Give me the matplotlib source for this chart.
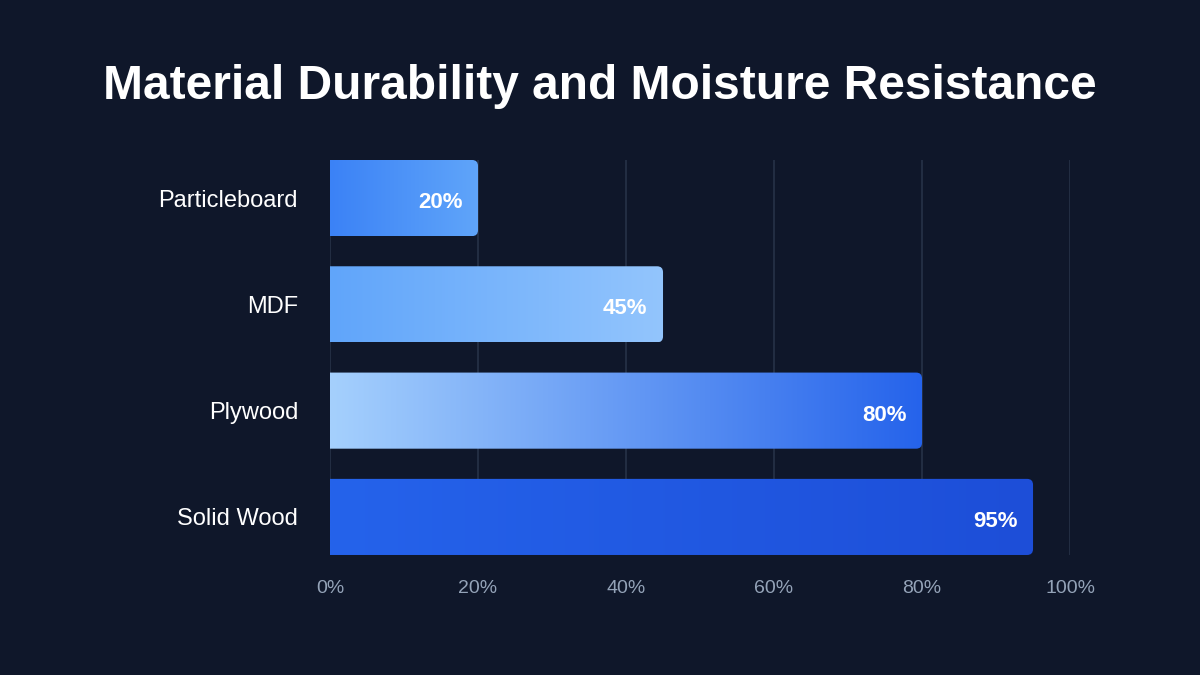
import numpy as np
import matplotlib.pyplot as plt
from matplotlib.patches import FancyBboxPatch
from matplotlib.colors import LinearSegmentedColormap

plt.rcParams['font.family'] = ['Liberation Sans', 'DejaVu Sans']

materials = ['Particleboard', 'MDF', 'Plywood', 'Solid Wood']
scores = [20, 45, 80, 95]
grad_left = ['#3b82f6', '#60a5fa', '#a5d0fd', '#2563eb']
grad_right = ['#60a5fa', '#93c5fd', '#2563eb', '#1d4ed8']
xticks = [0, 20, 40, 60, 80, 100]

bg = '#0f172a'
fig = plt.figure(figsize=(12, 6.75), dpi=100, facecolor=bg)
ax = fig.add_axes([0.275, 0.1778, 0.6167, 0.5852], facecolor=bg)

bar_h = 0.716
ax.set_xlim(0, 100)
ax.set_ylim(3 + bar_h / 2, -bar_h / 2)

for x in xticks:
    ax.axvline(x, color='#273247', lw=1.2, zorder=0)

for i, (name, v) in enumerate(zip(materials, scores)):
    y0 = i - bar_h / 2
    patch = FancyBboxPatch((-3, y0), v + 3, bar_h,
                           boxstyle='round,pad=0,rounding_size=0.8',
                           mutation_aspect=0.07, lw=0, zorder=2,
                           facecolor='none')
    ax.add_patch(patch)
    cmap = LinearSegmentedColormap.from_list('g%d' % i, [grad_left[i], grad_right[i]])
    img = ax.imshow(np.linspace(0, 1, 256).reshape(1, -1), cmap=cmap,
                    extent=[0, v, i + bar_h / 2, y0], aspect='auto', zorder=2)
    img.set_clip_path(patch)
    ax.text(v - 2.1, i + 0.02, '%d%%' % v, color='white', fontsize=16,
            fontweight='bold', ha='right', va='center_baseline', zorder=3)

ax.set_xticks(xticks)
ax.set_xticklabels(['%d%%' % x for x in xticks], color='#94a3b8', fontsize=14)
ax.set_yticks(range(len(materials)))
ax.set_yticklabels(materials, color='white', fontsize=17)
ax.tick_params(axis='x', length=0, pad=18)
ax.tick_params(axis='y', length=0, pad=23)
for s in ax.spines.values():
    s.set_visible(False)

fig.text(0.5, 0.872, 'Material Durability and Moisture Resistance', color='white',
         fontsize=34.5, fontweight='bold', ha='center', va='center')

fig.savefig('out.png', facecolor=bg)
